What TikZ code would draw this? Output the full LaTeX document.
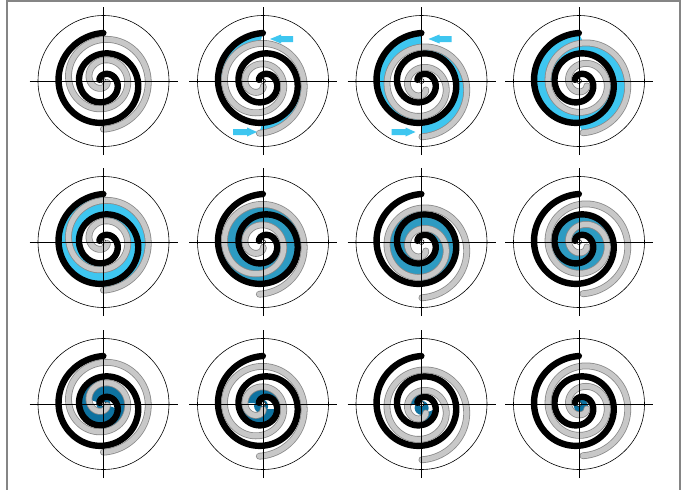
\documentclass[tikz,border=0pt]{standalone}
\usetikzlibrary{arrows.meta}
\definecolor{suck}{HTML}{3EC6F0}
\definecolor{midc}{HTML}{2D9BC2}
\definecolor{darkc}{HTML}{0E72A0}
\definecolor{grayfill}{HTML}{C8C8C8}
\definecolor{grayedge}{HTML}{8A8A8A}
\definecolor{framec}{HTML}{858585}
\def\A{3.26}
\def\Pmax{15.3}
\def\Ps{1.2}
\def\B{160.36}
\def\E{3.8}
\newcommand\FX[1]{(\A*((cos(deg(#1))+(#1)*sin(deg(#1)))*cos(\B)-((#1)*cos(deg(#1))-sin(deg(#1)))*sin(\B)))}
\newcommand\FY[1]{(\A*((cos(deg(#1))+(#1)*sin(deg(#1)))*sin(\B)+((#1)*cos(deg(#1))-sin(deg(#1)))*cos(\B)))}
\tikzset{
  blackwall/.style={line width=6.4pt, line cap=round, line join=round, black},
  grayout/.style={line width=6.8pt, line cap=round, line join=round, grayedge},
  grayin/.style={line width=5.2pt, line cap=round, line join=round, grayfill},
  axisline/.style={line width=0.8pt, black},
  ring/.style={line width=0.6pt, black},
  inflow/.style={fill=suck},
}
\newcommand\suckarrows{%
  \fill[inflow] (7,42) -- (18,46.5) -- (18,45) -- (30,45) -- (30,39) -- (18,39) -- (18,37.5) -- cycle;
  \fill[inflow] (-6,-51) -- (-16,-46.5) -- (-16,-48) -- (-30,-48) -- (-30,-54) -- (-16,-54) -- (-16,-55.5) -- cycle;
}
\newcommand\core[1]{\fill[#1] (\ex/2,\ey/2) circle (7);}
% #1 cx, #2 cy, #3 theta, #4 lo, #5 hi, #6 colour, #7 extra below walls, #8 extra on top
\newcommand\panel[8]{%
\begin{scope}[shift={(#1,-#2)}]
  \pgfmathsetmacro\ex{\E*cos(#3)}
  \pgfmathsetmacro\ey{\E*sin(#3)}
  \pgfmathsetmacro\loP{#4+pi}
  \pgfmathsetmacro\hiP{#5+pi}
  \begin{scope}[shift={(0,-2)}]
    \ifdim #5pt>#4pt
      \fill[#6] plot[variable=\t,domain=#4:#5,samples=70] ({\FX{\t}},{\FY{\t}})
        -- plot[variable=\t,domain=\hiP:\loP,samples=70] ({-\FX{\t}+\ex},{-\FY{\t}+\ey}) -- cycle;
      \fill[#6] plot[variable=\t,domain=#4:#5,samples=70] ({-\FX{\t}+\ex},{-\FY{\t}+\ey})
        -- plot[variable=\t,domain=\hiP:\loP,samples=70] ({\FX{\t}},{\FY{\t}}) -- cycle;
    \fi
    #7
  \end{scope}
  \fill[white, draw=black, line width=0.5pt] (0,0) circle (2.5);
  \begin{scope}[shift={(0,-2)}]
    \draw[blackwall] plot[variable=\t,domain=\Ps:\Pmax,samples=260] ({\FX{\t}},{\FY{\t}});
    \draw[grayout] plot[variable=\t,domain=\Ps:\Pmax,samples=260] ({-\FX{\t}+\ex},{-\FY{\t}+\ey});
    \draw[grayin] plot[variable=\t,domain=\Ps:\Pmax,samples=260] ({-\FX{\t}+\ex},{-\FY{\t}+\ey});
  \end{scope}
  \draw[ring] (0,0) circle (65.5);
  \draw[axisline] (-74,0) -- (74,0);
  \draw[axisline] (0,-74) -- (0,74);
  #8
\end{scope}}
\begin{document}
\begin{tikzpicture}[x=1pt,y=1pt]
\useasboundingbox (0,0) rectangle (686,-490);
\fill[white] (0,0) rectangle (686,-490);
\draw[framec, line width=2pt] (7,-500) -- (7,-1) -- (680,-1) -- (680,-500);
\panel{103.5}{81}{93.74}{0}{0}{suck}{}{}
\panel{263}{81}{183.74}{10.5876}{12.1584}{suck}{}{\suckarrows}
\panel{421.5}{81}{273.74}{9.0168}{12.1584}{suck}{}{\suckarrows}
\panel{579}{81}{3.74}{7.446}{12.1584}{suck}{}{}
\panel{103.5}{242}{93.74}{5.8752}{12.1584}{suck}{}{}
\panel{263}{242}{183.74}{4.3044}{10.5876}{midc}{}{}
\panel{421.5}{242}{273.74}{2.7336}{9.0168}{midc}{}{}
\panel{579}{242}{3.74}{1.2}{7.446}{midc}{}{}
\panel{103.5}{404}{93.74}{1.2}{5.8752}{darkc}{\core{darkc}}{}
\panel{263}{404}{183.74}{1.2}{4.3044}{darkc}{\core{darkc}}{}
\panel{421.5}{404}{273.74}{1.2}{2.7336}{darkc}{\core{darkc}}{}
\panel{579}{404}{3.74}{0}{0}{darkc}{\core{darkc}}{}
\end{tikzpicture}
\end{document}
